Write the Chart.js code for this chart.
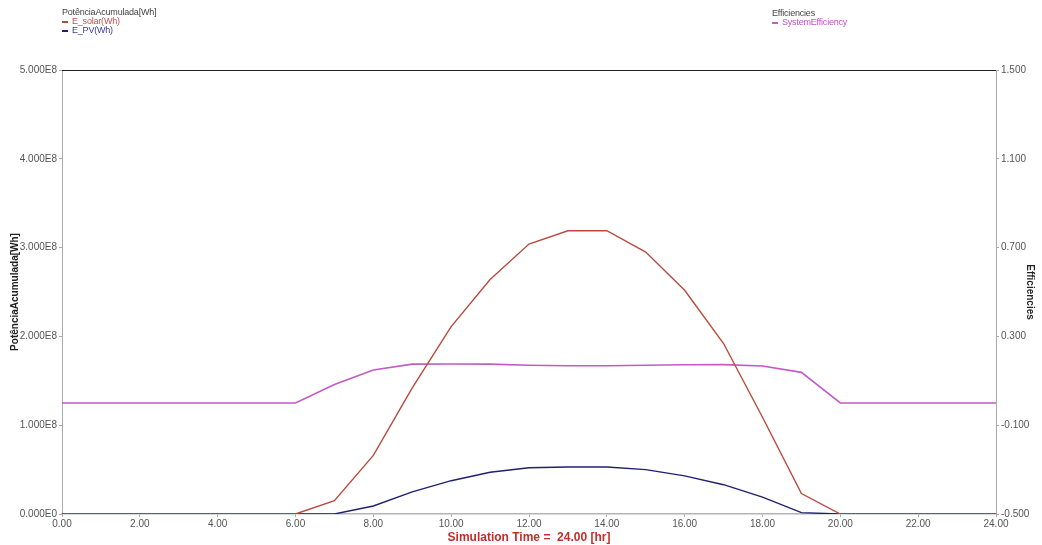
<!DOCTYPE html>
<html lang="pt">
<head>
    <meta charset="UTF-8">
    <title>PotênciaAcumulada / Efficiencies</title>
    <script src="https://cdn.jsdelivr.net/npm/chart.js"></script>
    <style>
        body {
            margin: 0;
            background: #fff;
            font-family: 'Liberation Sans', Arial, sans-serif;
        }
        .wrap {
            position: relative;
            width: 1042px;
            height: 545px;
        }
        .legend {
            position: absolute;
            font-size: 9px;
            line-height: 9px;
            color: #444;
            letter-spacing: -0.2px;
        }
        .legend .item { display: flex; align-items: center; }
        .legend .dash { display: inline-block; width: 6px; height: 2px; margin-right: 4px; }
    </style>
</head>
<body>
<div class="wrap">
    <canvas id="chart" width="1042" height="545"></canvas>
    <div class="legend" style="left:62px; top:8px;">
        <div>PotênciaAcumulada[Wh]</div>
        <div class="item" style="color:#c0504d;"><span class="dash" style="background:#b94a3c;"></span>E_solar(Wh)</div>
        <div class="item" style="color:#3a3a9a;"><span class="dash" style="background:#20206e;"></span>E_PV(Wh)</div>
    </div>
    <div class="legend" style="left:772px; top:9px;">
        <div>Efficiencies</div>
        <div class="item" style="color:#c050c8;"><span class="dash" style="background:#c45ac8;"></span>SystemEfficiency</div>
    </div>
</div>

<script>
    // hour of the simulation
    const hours = [0, 1, 2, 3, 4, 5, 6, 7, 8, 9, 10, 11, 12, 13, 14, 15, 16, 17, 18, 19, 20, 21, 22, 23, 24];
    // left axis, Wh
    const eSolar = [0, 0, 0, 0, 0, 0, 0, 0.15e8, 0.66e8, 1.42e8, 2.11e8, 2.64e8, 3.04e8, 3.19e8, 3.19e8, 2.95e8, 2.52e8, 1.92e8, 1.09e8, 0.23e8, 0, 0, 0, 0, 0];
    const ePV = [0, 0, 0, 0, 0, 0, 0, 0, 0.09e8, 0.25e8, 0.375e8, 0.47e8, 0.52e8, 0.53e8, 0.53e8, 0.50e8, 0.43e8, 0.33e8, 0.19e8, 0.015e8, 0, 0, 0, 0, 0];
    // right axis
    const systemEff = [0, 0, 0, 0, 0, 0, 0, 0.083, 0.149, 0.175, 0.176, 0.175, 0.170, 0.168, 0.168, 0.170, 0.172, 0.173, 0.167, 0.138, 0, 0, 0, 0, 0];

    const xTitle = 'Simulation Time =  24.00 [hr]';
    const leftTitle = 'PotênciaAcumulada[Wh]';
    const rightTitle = 'Efficiencies';

    const pts = arr => hours.map((h, i) => ({ x: h, y: arr[i] }));
    const tickFont = { family: 'Liberation Sans', size: 10 };
    const tickColor = '#555';

    // black line along the top of the plot
    const topBorder = {
        id: 'topBorder',
        afterDraw(c) {
            const a = c.chartArea, g = c.ctx;
            g.save();
            g.strokeStyle = '#222';
            g.lineWidth = 1;
            g.beginPath();
            g.moveTo(a.left, a.top + 0.5);
            g.lineTo(a.right, a.top + 0.5);
            g.stroke();
            g.restore();
        }
    };

    new Chart(document.getElementById('chart'), {
        type: 'line',
        data: {
            datasets: [
                { label: 'E_solar(Wh)', data: pts(eSolar), yAxisID: 'y', borderColor: '#b94a3c', borderWidth: 1.4, pointRadius: 0, tension: 0 },
                { label: 'E_PV(Wh)', data: pts(ePV), yAxisID: 'y', borderColor: '#20206e', borderWidth: 1.4, pointRadius: 0, tension: 0 },
                { label: 'SystemEfficiency', data: pts(systemEff), yAxisID: 'y2', borderColor: '#c45ac8', borderWidth: 1.6, pointRadius: 0, tension: 0 }
            ]
        },
        options: {
            responsive: false,
            animation: false,
            layout: { padding: { top: 70, left: 0, right: 0, bottom: 0 } },
            plugins: { legend: { display: false }, tooltip: { enabled: false } },
            scales: {
                x: {
                    type: 'linear',
                    z: 1,
                    min: 0, max: 24,
                    afterFit: s => { s.height = 31; },
                    border: { color: '#b4b4bc', width: 1.5 },
                    grid: { drawOnChartArea: false, tickLength: 3, color: '#aaa' },
                    ticks: { stepSize: 2, padding: 1, font: tickFont, color: tickColor, maxRotation: 0, callback: v => v.toFixed(2) },
                    title: { display: true, text: xTitle, color: '#c0302a', font: { family: 'Liberation Sans', size: 12, weight: 'bold' }, padding: 0 }
                },
                y: {
                    position: 'left',
                    min: 0, max: 5e8,
                    afterFit: s => { s.width = 62; },
                    border: { color: '#aaa', width: 1 },
                    grid: { drawOnChartArea: false, tickLength: 3, color: '#aaa' },
                    ticks: { stepSize: 1e8, padding: 2, font: tickFont, color: tickColor, callback: v => v === 0 ? '0.000E0' : (v / 1e8).toFixed(3) + 'E8' },
                    title: { display: true, text: leftTitle, color: '#222', font: { family: 'Liberation Sans', size: 10, weight: 'bold' }, padding: { top: 9, bottom: 0 } }
                },
                y2: {
                    position: 'right',
                    min: -0.5, max: 1.5,
                    afterFit: s => { s.width = 46; },
                    border: { color: '#aaa', width: 1 },
                    grid: { drawOnChartArea: false, tickLength: 3, color: '#aaa' },
                    ticks: { stepSize: 0.4, padding: 2, font: tickFont, color: tickColor, callback: v => v.toFixed(3) },
                    title: { display: true, text: rightTitle, color: '#222', font: { family: 'Liberation Sans', size: 10, weight: 'bold' }, padding: { top: 6, bottom: 0 } }
                }
            }
        },
        plugins: [topBorder]
    });
</script>
</body>
</html>
